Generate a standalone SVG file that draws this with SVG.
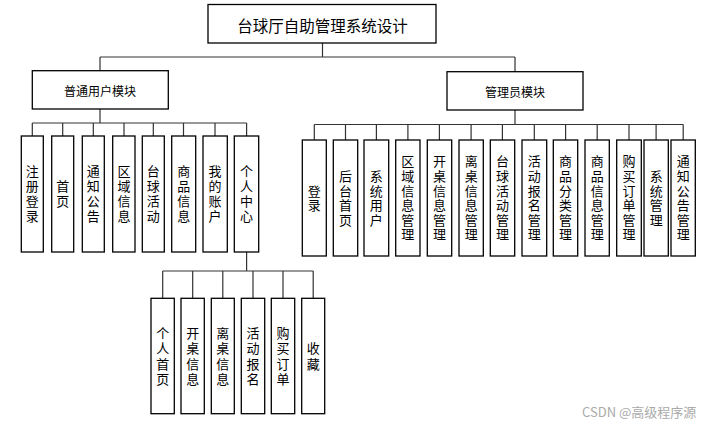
<svg xmlns="http://www.w3.org/2000/svg" width="708" height="423" viewBox="0 0 708 423">
<style>
.box{fill:#fff;stroke:#000;stroke-width:1.3}
.ln{fill:none;stroke:#333;stroke-width:1.2}
text{font-family:"Noto Sans CJK SC","Noto Sans",sans-serif;fill:#000}
.v{font-size:13px;text-anchor:middle;writing-mode:vertical-rl;letter-spacing:2px}
.va{font-size:13px;text-anchor:middle;writing-mode:vertical-rl;letter-spacing:1.6px}
.vs{font-size:13px;text-anchor:middle;writing-mode:vertical-rl;letter-spacing:2.5px}
.m{font-size:12px;text-anchor:middle;dominant-baseline:central}
.t{font-size:15.5px;text-anchor:middle;dominant-baseline:central}
.wm{font-size:13px;fill:#aaa;font-family:"Noto Sans CJK SC","Liberation Sans",sans-serif}
</style>
<g id="connectors" class="ln">
<path d="M322.5 43V57M100 57H515M100 57V70.5M515 57V71.5"/>
<path d="M100 109V123M32.3 123H246.7M32.3 123V136M62.7 123V136M93.3 123V136M124 123V136M153.3 123V136M183.5 123V136M215 123V136M246.6 123V136"/>
<path d="M246.6 252V271M162.7 271H313.3M162.7 271V298M192.7 271V298M222.8 271V298M253 271V298M283 271V298M313.2 271V298"/>
<path d="M515 110V124.5M314.3 124.5H683.3M314.3 124.5V140M345.5 124.5V140M376.4 124.5V140M407.9 124.5V140M439.4 124.5V140M471.1 124.5V140M502.4 124.5V140M534.3 124.5V140M565.6 124.5V140M597.2 124.5V140M629 124.5V140M656.1 124.5V140M683.2 124.5V140"/>
</g>
<g id="root"><rect class="box" x="208" y="4.5" width="228" height="38.5"/><text class="t" x="322.5" y="24.5">台球厅自助管理系统设计</text></g>
<g id="user"><rect class="box" x="32.3" y="70.7" width="136" height="38.3"/><text class="m" x="100" y="90">普通用户模块</text></g>
<g id="admin"><rect class="box" x="447" y="71.7" width="136" height="38.3"/><text class="m" x="515" y="91">管理员模块</text></g>

<g id="u1"><rect class="box" x="21.3" y="136" width="22" height="116"/><text class="v" x="32.3" y="195">注册登录</text></g>
<g id="u2"><rect class="box" x="51.7" y="136" width="22" height="116"/><text class="v" x="62.7" y="195">首页</text></g>
<g id="u3"><rect class="box" x="82.3" y="136" width="22" height="116"/><text class="v" x="93.3" y="195">通知公告</text></g>
<g id="u4"><rect class="box" x="112.7" y="136" width="22.3" height="116"/><text class="v" x="124" y="195">区域信息</text></g>
<g id="u5"><rect class="box" x="142.3" y="136" width="22" height="116"/><text class="v" x="153.3" y="195">台球活动</text></g>
<g id="u6"><rect class="box" x="171.7" y="136" width="24" height="116"/><text class="v" x="183.7" y="195">商品信息</text></g>
<g id="u7"><rect class="box" x="203" y="136" width="24.3" height="116"/><text class="v" x="215" y="195">我的账户</text></g>
<g id="u8"><rect class="box" x="234.3" y="136" width="24.4" height="116"/><text class="v" x="246.5" y="195">个人中心</text></g>

<g id="s1"><rect class="box" x="151" y="298.3" width="23.3" height="115.4"/><text class="vs" x="162.7" y="357.2">个人首页</text></g>
<g id="s2"><rect class="box" x="181" y="298.3" width="23.3" height="115.4"/><text class="vs" x="192.7" y="357.2">开桌信息</text></g>
<g id="s3"><rect class="box" x="211.3" y="298.3" width="23" height="115.4"/><text class="vs" x="222.8" y="357.2">离桌信息</text></g>
<g id="s4"><rect class="box" x="241.3" y="298.3" width="23.4" height="115.4"/><text class="vs" x="253" y="357.2">活动报名</text></g>
<g id="s5"><rect class="box" x="271.3" y="298.3" width="23.4" height="115.4"/><text class="vs" x="283" y="357.2">购买订单</text></g>
<g id="s6"><rect class="box" x="301.7" y="298.3" width="23" height="115.4"/><text class="vs" x="313.2" y="357.2">收藏</text></g>

<g id="a1"><rect class="box" x="302.3" y="140" width="24" height="116"/><text class="va" x="314.3" y="198.8">登录</text></g>
<g id="a2"><rect class="box" x="333.3" y="140" width="24.4" height="116"/><text class="va" x="345.5" y="198.8">后台首页</text></g>
<g id="a3"><rect class="box" x="364" y="140" width="24.7" height="116"/><text class="va" x="376.3" y="198.8">系统用户</text></g>
<g id="a4"><rect class="box" x="395.7" y="140" width="24.3" height="116"/><text class="va" x="407.8" y="198.8">区域信息管理</text></g>
<g id="a5"><rect class="box" x="427.3" y="140" width="24.4" height="116"/><text class="va" x="439.5" y="198.8">开桌信息管理</text></g>
<g id="a6"><rect class="box" x="459" y="140" width="24.3" height="116"/><text class="va" x="471.2" y="198.8">离桌信息管理</text></g>
<g id="a7"><rect class="box" x="490.3" y="140" width="24.4" height="116"/><text class="va" x="502.5" y="198.8">台球活动管理</text></g>
<g id="a8"><rect class="box" x="522" y="140" width="24.7" height="116"/><text class="va" x="534.3" y="198.8">活动报名管理</text></g>
<g id="a9"><rect class="box" x="553.3" y="140" width="24.4" height="116"/><text class="va" x="565.5" y="198.8">商品分类管理</text></g>
<g id="a10"><rect class="box" x="585" y="140" width="24.3" height="116"/><text class="va" x="597.2" y="198.8">商品信息管理</text></g>
<g id="a11"><rect class="box" x="616.7" y="140" width="24.6" height="116"/><text class="va" x="629" y="198.8">购买订单管理</text></g>
<g id="a12"><rect class="box" x="644" y="140" width="24.3" height="116"/><text class="va" x="656.2" y="198.8">系统管理</text></g>
<g id="a13"><rect class="box" x="671" y="140" width="24.3" height="116"/><text class="va" x="683.2" y="198.8">通知公告管理</text></g>

<text class="wm" x="582" y="416.5">CSDN @高级程序源</text>
</svg>
